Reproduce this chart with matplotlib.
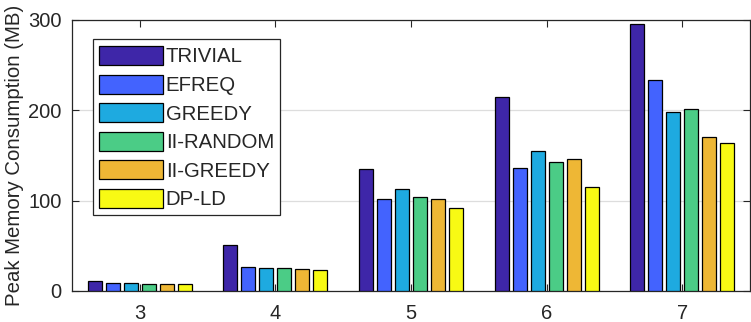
import matplotlib
matplotlib.use("Agg")
import matplotlib.pyplot as plt
from matplotlib.patches import Rectangle
import numpy as np

plt.rcParams['font.family'] = ['Liberation Sans', 'DejaVu Sans']

categories = ['3', '4', '5', '6', '7']
series_names = ['TRIVIAL', 'EFREQ', 'GREEDY', 'II-RANDOM', 'II-GREEDY', 'DP-LD']
trivial   = [11.0, 50.5, 134.7, 214.4, 296.0]
efreq     = [8.5, 26.5, 101.5, 135.8, 234.0]
greedy    = [8.5, 25.1, 112.6, 154.6, 198.0]
ii_random = [7.4, 25.1, 103.7, 142.5, 202.0]
ii_greedy = [7.4, 24.4, 101.5, 145.8, 170.5]
dp_ld     = [7.4, 22.9, 91.5, 114.8, 163.5]
series = [trivial, efreq, greedy, ii_random, ii_greedy, dp_ld]
colors = ['#3E26A8', '#4363FE', '#1EAAE0', '#4BCC86', '#EEB735', '#F8FA14']

W, H = 751, 322
fig = plt.figure(figsize=(W/100, H/100), dpi=100)
ax = fig.add_axes([72/W, 1-291/H, (750-72)/W, (291-20)/H])

x = np.arange(3, 8)
step = 0.1327
width = 0.103
for i, (vals, c, name) in enumerate(zip(series, colors, series_names)):
    ax.bar(x + (i - 2.5) * step, vals, width, color=c, edgecolor='black',
           linewidth=0.9, label=name, zorder=3)

ax.set_xlim(2.5, 7.5)
ax.set_ylim(0, 300)
ax.set_xticks(x)
ax.set_xticklabels(categories)
ax.set_yticks([0, 100, 200, 300])
ax.yaxis.grid(True, color='#DDDDDD', linewidth=0.9, zorder=0)
ax.set_axisbelow(True)
ax.tick_params(direction='in', top=True, right=True, labelsize=14.5, length=5,
               width=0.8, colors='#262626')
ax.tick_params(axis='y', pad=7.5)
ax.tick_params(axis='x', pad=9.5)
for s in ax.spines.values():
    s.set_color('#262626')
    s.set_linewidth(0.9)
ax.set_ylabel('Peak Memory Consumption (MB)', fontsize=14.7, color='#262626', labelpad=3)

# legend frame
frame = Rectangle((93/W, 1-215/H), (280-93)/W, (215-39)/H, transform=fig.transFigure,
                  facecolor='white', edgecolor='#262626', linewidth=0.9, zorder=4)
fig.add_artist(frame)
leg = fig.legend(loc='upper left', bbox_to_anchor=(99/W, 1-46/H),
                 bbox_transform=fig.transFigure, fontsize=14.7,
                 frameon=False, handlelength=3.15, handleheight=1.05, labelspacing=0.4,
                 handletextpad=0.12, borderpad=0, borderaxespad=0)
leg.set_zorder(5)
for t in leg.get_texts():
    t.set_color('#262626')

fig.savefig('out.png', dpi=100)
